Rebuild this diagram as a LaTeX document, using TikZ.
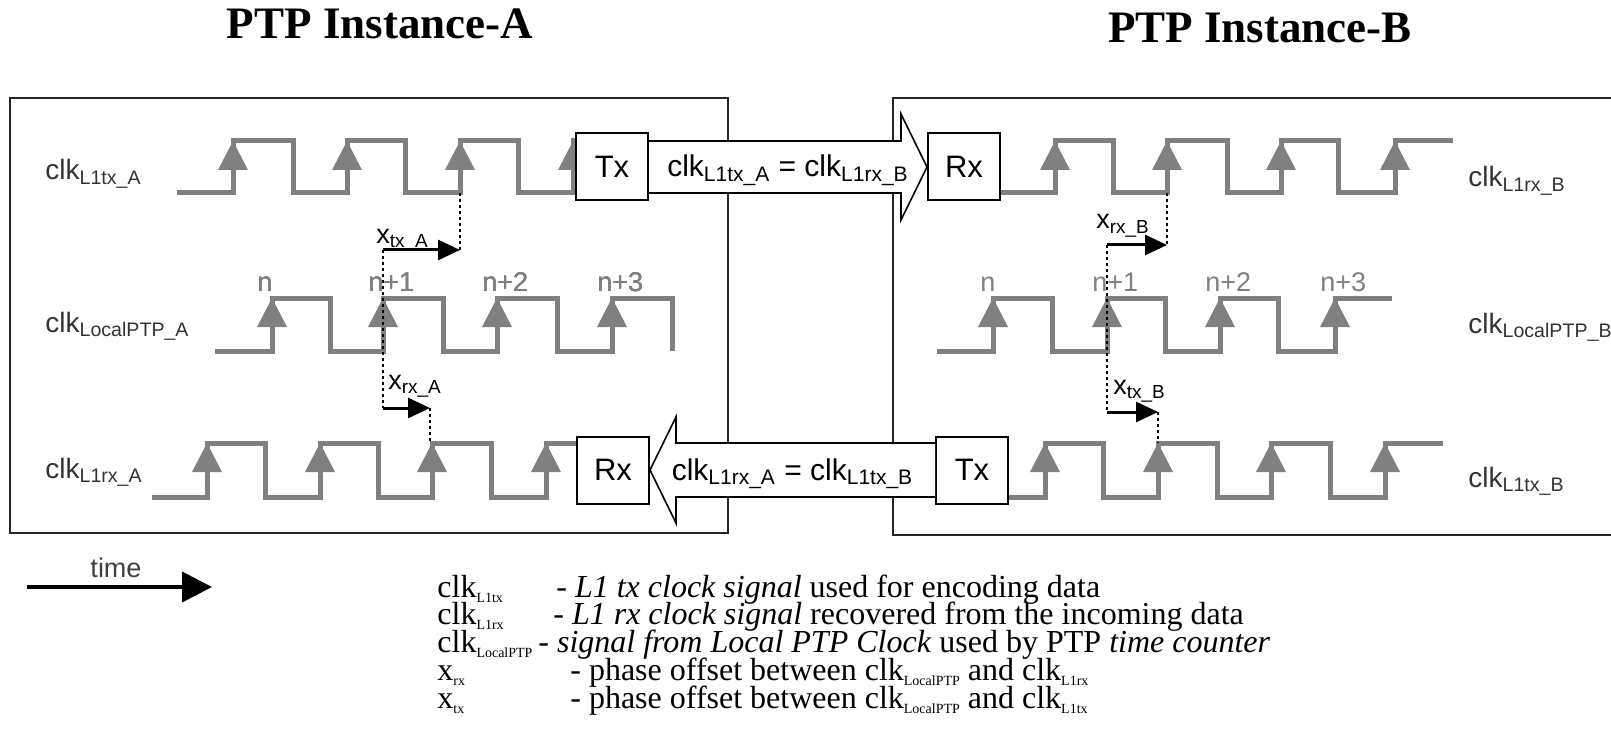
\documentclass[tikz,border=0pt]{standalone}
\usepackage{fontspec}
\setmainfont{Liberation Serif}
\setsansfont{Liberation Sans}
\usetikzlibrary{arrows.meta,calc}
\definecolor{siggray}{RGB}{128,128,128}
% rising edge mark: x of the edge, y of the high level
\newcommand{\edgemark}[2]{\fill[siggray] (#1-15,#2+29) -- (#1+15,#2+29) -- (#1,#2) -- cycle;}
% small subscript for the key
\newcommand{\lsub}[1]{\raisebox{-0.35ex}{\fontsize{7}{8}\selectfont #1}}
\begin{document}
\begin{tikzpicture}[x=0.5pt,y=-0.5pt,
    clock/.style={draw=siggray,line width=2.5pt},
    frame/.style={draw=black!85,line width=1pt},
    port/.style={draw,fill=white,line width=1pt,minimum width=36pt,minimum height=33.5pt,inner sep=0pt,font=\sffamily\fontsize{15.5}{18}\selectfont},
    fatarrow/.style={draw,fill=white,line width=0.8pt},
    flowtext/.style={anchor=base,inner sep=0pt,font=\sffamily\fontsize{15}{18}\selectfont},
    siglabel/.style={anchor=base west,inner sep=0pt,text=black!80,font=\sffamily\fontsize{14}{16}\selectfont},
    nlabel/.style={anchor=base west,inner sep=0pt,text=siggray,font=\sffamily\fontsize{13.5}{16}\selectfont},
    xlabel/.style={anchor=base west,inner sep=0pt,font=\sffamily\fontsize{13.5}{16}\selectfont},
    guide/.style={draw,line width=1pt,dash pattern=on 1.5pt off 1.5pt},
    offset/.style={draw,line width=1.5pt,-{Triangle[length=11pt,width=10pt]}},
    title/.style={anchor=base,inner sep=0pt,font=\bfseries\fontsize{22.5}{27}\selectfont},
    legend/.style={anchor=base west,inner sep=0pt}]
    \useasboundingbox (0,0) rectangle (1611,754);
    % titles
    \node[title] (ttla) at (380,39) {PTP Instance-A};
    \node[title] (ttlb) at (1260,43) {PTP Instance-B};
    % frames
    \draw[frame] (10,98) rectangle (728,533);
    \draw[frame] (893,98) rectangle (1660,535);
    % clocks of A
    \draw[clock] (177,193) -- (233,193) -- (233,141) -- (293,141) -- (293,193) -- (347,193) -- (347,141) -- (405,141) -- (405,193) -- (460,193) -- (460,141) -- (518,141) -- (518,193) -- (573,193) -- (573,141) -- (600,141);
    \foreach \x in {233,347,460,573} \edgemark{\x}{141}
    \draw[clock] (215,351) -- (272,351) -- (272,298) -- (330,298) -- (330,351) -- (383,351) -- (383,298) -- (443,298) -- (443,351) -- (497,351) -- (497,298) -- (557,298) -- (557,351) -- (612,351) -- (612,298) -- (672,298) -- (672,351);
    \foreach \x in {272,383,497,612} \edgemark{\x}{298}
    \draw[clock] (152,497) -- (207,497) -- (207,443) -- (265,443) -- (265,497) -- (320,497) -- (320,443) -- (378,443) -- (378,497) -- (432,497) -- (432,443) -- (491,443) -- (491,497) -- (546,497) -- (546,443) -- (600,443);
    \foreach \x in {207,320,432,546} \edgemark{\x}{443}
    % clocks of B
    \draw[clock] (980,193) -- (1055,193) -- (1055,141) -- (1113,141) -- (1113,193) -- (1167,193) -- (1167,141) -- (1227,141) -- (1227,193) -- (1281,193) -- (1281,141) -- (1338,141) -- (1338,193) -- (1395,193) -- (1395,141) -- (1453,141);
    \foreach \x in {1055,1167,1281,1395} \edgemark{\x}{141}
    \draw[clock] (937,351) -- (993,351) -- (993,298) -- (1052,298) -- (1052,351) -- (1107,351) -- (1107,298) -- (1165,298) -- (1165,351) -- (1220,351) -- (1220,298) -- (1278,298) -- (1278,351) -- (1335,351) -- (1335,298) -- (1392,298);
    \foreach \x in {993,1107,1220,1335} \edgemark{\x}{298}
    \draw[clock] (990,497) -- (1045,497) -- (1045,443) -- (1103,443) -- (1103,497) -- (1158,497) -- (1158,443) -- (1217,443) -- (1217,497) -- (1271,497) -- (1271,443) -- (1330,443) -- (1330,497) -- (1385,497) -- (1385,443) -- (1443,443);
    \foreach \x in {1045,1158,1271,1385} \edgemark{\x}{443}
    % counter values
    \foreach \x/\t [count=\i] in {257/n,368/n+1,482/n+2,597/n+3} \node[nlabel] (na\i) at (\x,292) {\t};
    \foreach \x/\t [count=\i] in {980/n,1092/n+1,1205/n+2,1320/n+3} \node[nlabel] (nb\i) at (\x,292) {\t};
    % ports
    \node[port] (txa) at (612,167) {Tx};
    \node[port] (rxb) at (964,167) {Rx};
    \node[port] (rxa) at (613,470) {Rx};
    \node[port] (txb) at (972,470) {Tx};
    % links
    \draw[fatarrow] ($(txa.east)+(0,-26)$) -- ($(rxb.west)+(-26,-26)$) -- ($(rxb.west)+(-26,-53)$) -- (rxb.west) -- ($(rxb.west)+(-26,53)$) -- ($(rxb.west)+(-26,26)$) -- ($(txa.east)+(0,26)$);
    \node[flowtext] (linkab) at ($($(txa.east)!0.5!(rxb.west)$)+(0,10)$) {clk\textsubscript{L1tx\_A} = clk\textsubscript{L1rx\_B}};
    \draw[fatarrow] ($(txb.west)+(0,-27)$) -- ($(rxa.east)+(26,-27)$) -- ($(rxa.east)+(26,-53)$) -- (rxa.east) -- ($(rxa.east)+(26,53)$) -- ($(rxa.east)+(26,27)$) -- ($(txb.west)+(0,27)$);
    \node[flowtext] (linkba) at ($($(rxa.east)!0.5!(txb.west)$)+(0,10)$) {clk\textsubscript{L1rx\_A} = clk\textsubscript{L1tx\_B}};
    % phase offsets A
    \coordinate (txs-a) at (383,250);
    \coordinate (txe-a) at (460,250);
    \coordinate (rxs-a) at (383,408);
    \coordinate (rxe-a) at (430,408);
    \draw[guide] (460,193) -- (txe-a);
    \draw[guide] (txs-a) -- (rxs-a);
    \draw[guide] (rxe-a) -- (430,443);
    \draw[offset] (txs-a) -- (txe-a);
    \draw[offset] (rxs-a) -- (rxe-a);
    \node[xlabel] (xtxa) at (376,243) {x\textsubscript{tx\_A}};
    \node[xlabel] (xrxa) at (388,389) {x\textsubscript{rx\_A}};
    % phase offsets B
    \coordinate (rxs-b) at (1107,245);
    \coordinate (rxe-b) at (1167,245);
    \coordinate (txs-b) at (1107,412);
    \coordinate (txe-b) at (1158,412);
    \draw[guide] (1167,193) -- (rxe-b);
    \draw[guide] (rxs-b) -- (txs-b);
    \draw[guide] (txe-b) -- (1158,443);
    \draw[offset] (rxs-b) -- (rxe-b);
    \draw[offset] (txs-b) -- (txe-b);
    \node[xlabel] (xrxb) at (1096,229) {x\textsubscript{rx\_B}};
    \node[xlabel] (xtxb) at (1113,394) {x\textsubscript{tx\_B}};
    % signal names
    \node[siglabel] (lbl-txa) at (45,180) {clk\textsubscript{L1tx\_A}};
    \node[siglabel] (lbl-pa) at (45,332) {clk\textsubscript{LocalPTP\_A}};
    \node[siglabel] (lbl-rxa) at (45,478) {clk\textsubscript{L1rx\_A}};
    \node[siglabel] (lbl-rxb) at (1468,187) {clk\textsubscript{L1rx\_B}};
    \node[siglabel] (lbl-pb) at (1468,333) {clk\textsubscript{LocalPTP\_B}};
    \node[siglabel] (lbl-txb) at (1468,487) {clk\textsubscript{L1tx\_B}};
    % time
    \coordinate (t0) at (27,587);
    \coordinate (t1) at (212,587);
    \draw[line width=2pt,-{Triangle[length=15pt,width=15pt]}] (t0) -- (t1);
    \node[anchor=base,inner sep=0pt,text=black!75,font=\sffamily\fontsize{13.5}{16}\selectfont] (tlbl) at (116,577) {time};
    % key
    \node[legend] (key) at (437,597) {\parbox[t]{420pt}{\fontsize{16}{13.9}\selectfont\lineskiplimit=-20pt
        \makebox[59.5pt][l]{clk\lsub{L1tx}}- \textit{L1 tx clock signal} used for encoding data\\
        \makebox[58pt][l]{clk\lsub{L1rx}}- \textit{L1 rx clock signal} recovered from the incoming data\\
        \makebox[50.5pt][l]{clk\lsub{LocalPTP}}- \textit{signal from Local PTP Clock} used by PTP \textit{time counter}\\
        \makebox[66.5pt][l]{x\lsub{rx}}- phase offset between clk\lsub{LocalPTP} and clk\lsub{L1rx}\\
        \makebox[66.5pt][l]{x\lsub{tx}}- phase offset between clk\lsub{LocalPTP} and clk\lsub{L1tx}}};
\end{tikzpicture}
\end{document}
